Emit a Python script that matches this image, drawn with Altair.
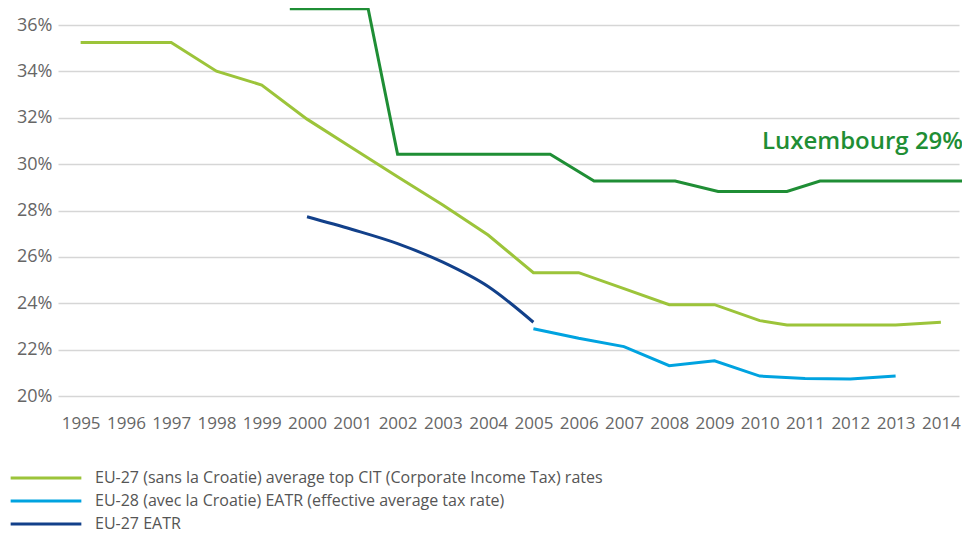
import altair as alt
import pandas as pd

# ---- data ----
cit_label = "EU-27 (sans la Croatie) average top CIT (Corporate Income Tax) rates"
eu28_label = "EU-28 (avec la Croatie) EATR (effective average tax rate)"
eu27_label = "EU-27 EATR"

cit_years = [1995, 1996, 1997, 1998, 1999, 2000, 2001, 2002, 2003, 2004, 2005, 2006,
             2007, 2008, 2009, 2010, 2010.6, 2011, 2012, 2013, 2014]
cit_values = [35.25, 35.25, 35.25, 34.01, 33.41, 31.94, 30.70, 29.46, 28.24, 26.94, 25.32, 25.32,
              24.63, 23.94, 23.94, 23.25, 23.06, 23.06, 23.06, 23.06, 23.18]

eu28_years = [2005, 2006, 2007, 2008, 2009, 2010, 2011, 2012, 2013]
eu28_values = [22.90, 22.49, 22.13, 21.31, 21.52, 20.86, 20.75, 20.73, 20.86]

eu27_years = [2000, 2001, 2002, 2003, 2004, 2005]
eu27_values = [27.73, 27.18, 26.57, 25.77, 24.72, 23.18]

lux_years = [1999.62, 2001.35, 2002.0, 2005.37, 2006.34, 2008.13, 2009.08, 2010.6, 2011.33, 2014.64]
lux_values = [36.7, 36.7, 30.43, 30.43, 29.27, 29.27, 28.82, 28.82, 29.27, 29.27]

lux_text = "Luxembourg 29%"
lux_text_year = 2014.49
lux_text_value = 30.65

tick_years = list(range(1995, 2015))
tick_pcts = [20, 22, 24, 26, 28, 30, 32, 34, 36]

series_order = [cit_label, eu28_label, eu27_label]
series_colors = ["#9CC43A", "#00A3E0", "#12408A"]
lux_color = "#1F8E35"

FONT = "Open Sans"

df = pd.concat([
    pd.DataFrame({"year": cit_years, "value": cit_values, "series": cit_label}),
    pd.DataFrame({"year": eu28_years, "value": eu28_values, "series": eu28_label}),
    pd.DataFrame({"year": eu27_years, "value": eu27_values, "series": eu27_label}),
], ignore_index=True)
lux_df = pd.DataFrame({"year": lux_years, "value": lux_values})
txt_df = pd.DataFrame({"year": [lux_text_year], "value": [lux_text_value], "t": [lux_text]})

xscale = alt.Scale(domain=[1994.5, 2014.4], nice=False, zero=False)
yscale = alt.Scale(domain=[20, 36], nice=False, zero=False)

xaxis = alt.Axis(values=tick_years, format="d", grid=False, domain=False, ticks=False,
                 labelFont=FONT, labelFontSize=17, labelColor="#666666", labelPadding=19,
                 labelFlush=False, labelOverlap=False, title=None)
yaxis = alt.Axis(values=tick_pcts, labelExpr="datum.value + '%'", grid=True,
                 gridColor="#D6D6D6", gridWidth=1.5, domain=False, ticks=False,
                 labelFont=FONT, labelFontSize=18, labelColor="#666666", labelPadding=6,
                 title=None)

color = alt.Color("series:N", sort=series_order,
                  scale=alt.Scale(domain=series_order, range=series_colors),
                  legend=alt.Legend(orient="none", legendX=-20, legendY=445, title=None,
                                    symbolType="M-10,0H10", symbolSize=50,
                                    symbolStrokeWidth=3, labelFont=FONT, labelFontSize=16,
                                    labelColor="#555555", labelOffset=41, rowPadding=7,
                                    labelLimit=0, padding=0))

base_x = alt.X("year:Q", scale=xscale, axis=xaxis)
base_y = alt.Y("value:Q", scale=yscale, axis=yaxis)

cit = alt.Chart(df).transform_filter(alt.datum.series == cit_label).mark_line(
    strokeWidth=3).encode(x=base_x, y=base_y, color=color)
eu28 = alt.Chart(df).transform_filter(alt.datum.series == eu28_label).mark_line(
    strokeWidth=3).encode(x=base_x, y=base_y, color=color)
eu27 = alt.Chart(df).transform_filter(alt.datum.series == eu27_label).mark_line(
    strokeWidth=3, interpolate="monotone").encode(x=base_x, y=base_y, color=color)

lux = alt.Chart(lux_df).mark_line(strokeWidth=3, color=lux_color).encode(x=base_x, y=base_y)

label = alt.Chart(txt_df).mark_text(align="right", baseline="alphabetic", font=FONT,
                                    fontSize=24, fontWeight=600, color=lux_color).encode(
    x=base_x, y=base_y, text="t:N")

chart = alt.layer(cit, eu28, eu27, lux, label).properties(
    width=901, height=371,
    autosize=alt.AutoSizeParams(type="none"),
    padding={"left": 50, "top": 17, "right": 3, "bottom": 138},
).configure_view(stroke=None)

chart.save("out.html", embed_options={"renderer": "svg", "actions": False})
